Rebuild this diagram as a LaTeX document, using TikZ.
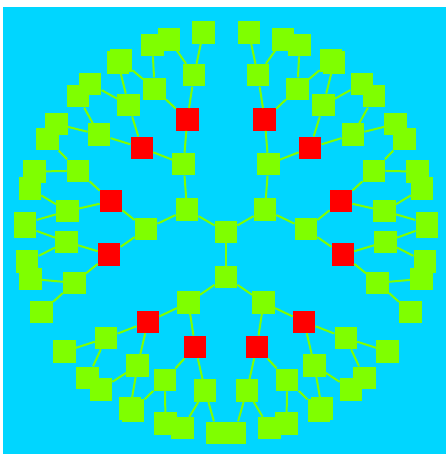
\documentclass[tikz,border=0pt]{standalone}
\usepackage{xcolor}
\usetikzlibrary{calc}
\definecolor{skycyan}{RGB}{0,214,255}
\definecolor{leafgreen}{RGB}{127,255,0}

\begin{document}
\begin{tikzpicture}[x=1pt,y=1pt,
	gnode/.style={rectangle,fill=leafgreen,minimum size=22.5pt,inner sep=0pt},
	rnode/.style={rectangle,fill=red,minimum size=22.5pt,inner sep=0pt},
	link/.style={draw=leafgreen,line width=2pt}]
	\useasboundingbox (-226,232) rectangle (220,-222);
	\fill[skycyan] (-223,225) rectangle (220,-222);
	
	% root and its three branches
	\node[gnode] (n) at (0,0) {};
	\foreach \i in {1,2,3}{
		\pgfmathsetmacro{\ai}{30+120*(\i-1)}
		\node[gnode] (n-\i) at (\ai:45) {};
		\draw[link] (n) -- (n-\i);
		\foreach \j in {1,2}{
			\pgfmathsetmacro{\aj}{\ai+56*(\j-1.5)}
			\node[gnode] (n-\i-\j) at (\aj:80) {};
			\draw[link] (n-\i) -- (n-\i-\j);
			\foreach \k in {1,2}{
				\pgfmathsetmacro{\ak}{\aj+26*(\k-1.5)}
				\node[rnode] (n-\i-\j-\k) at (\ak:119) {};
				\draw[link] (n-\i-\j) -- (n-\i-\j-\k);
				\foreach \l in {1,2}{
					\pgfmathsetmacro{\al}{\ak+15*(\l-1.5)}
					\node[gnode] (n-\i-\j-\k-\l) at (\al:160) {};
					\draw[link] (n-\i-\j-\k) -- (n-\i-\j-\k-\l);
					% leaves
					\foreach \m in {1,2}{
						\pgfmathsetmacro{\am}{\al+10*(\m-1.5)}
						\node[gnode] (n-\i-\j-\k-\l-\m) at (\am:201) {};
						\draw[link] (n-\i-\j-\k-\l) -- (n-\i-\j-\k-\l-\m);
					}
				}
			}
		}
	}
\end{tikzpicture}
\end{document}
